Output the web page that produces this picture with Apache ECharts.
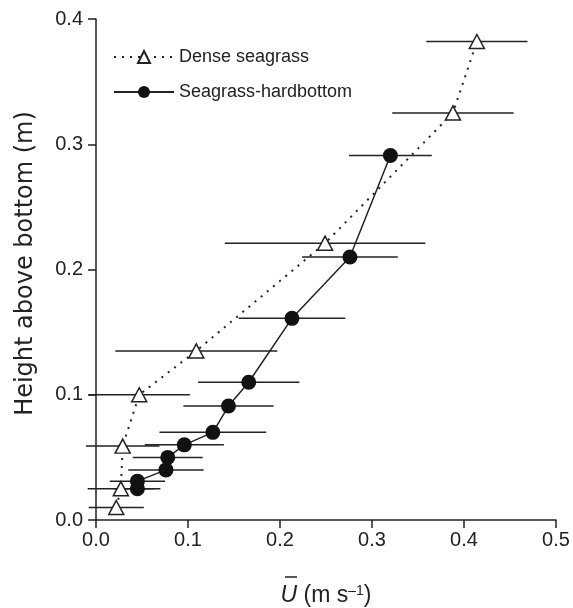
<!DOCTYPE html>
<html>
<head>
<meta charset="utf-8">
<script src="https://cdn.jsdelivr.net/npm/echarts@6/dist/echarts.min.js"></script>
<style>
  html, body { margin: 0; padding: 0; background: #fff; }
  #chart { width: 573px; height: 608px; }
</style>
</head>
<body>
<div id="chart"></div>
<script>
// dense seagrass profile (triangles)
var denseHeight = [0.010, 0.025, 0.059, 0.100, 0.135, 0.221, 0.325, 0.382];
var denseU      = [0.022, 0.027, 0.029, 0.047, 0.109, 0.249, 0.388, 0.414];
var denseErr    = [0.030, 0.036, 0.040, 0.055, 0.088, 0.109, 0.066, 0.055];

// seagrass-hardbottom profile (filled circles)
var hardHeight = [0.025, 0.031, 0.040, 0.050, 0.060, 0.070, 0.091, 0.110, 0.161, 0.210, 0.291];
var hardU      = [0.045, 0.045, 0.076, 0.078, 0.096, 0.127, 0.144, 0.166, 0.213, 0.276, 0.320];
var hardErr    = [0.025, 0.030, 0.041, 0.038, 0.043, 0.058, 0.049, 0.055, 0.058, 0.052, 0.045];

var seriesNames = ['Dense seagrass', 'Seagrass-hardbottom'];

var ink = '#222';
var font = "'Liberation Sans', Arial, sans-serif";

function pairs (xs, ys) {
  return xs.map(function (x, i) { return [x, ys[i]]; });
}
function triples (xs, ys, es) {
  return xs.map(function (x, i) { return [x, ys[i], es[i]]; });
}

// horizontal error bar drawn through the axes
function errBar (params, api) {
  var x = api.value(0), y = api.value(1), e = api.value(2);
  var a = api.coord([x - e, y]);
  var b = api.coord([x + e, y]);
  return {
    type: 'line',
    shape: { x1: a[0], y1: a[1], x2: b[0], y2: b[1] },
    style: { stroke: ink, lineWidth: 1.5 }
  };
}

var dom = echarts.init(document.getElementById('chart'));
dom.setOption({
  animation: false,
  grid: { left: 96, right: 17, top: 19, bottom: 88, outerBoundsMode: 'none' },
  legend: {
    orient: 'vertical',
    left: 113,
    top: 48,
    padding: 0,
    itemWidth: 60,
    itemHeight: 15,
    itemGap: 17,
    data: seriesNames,
    textStyle: { fontFamily: font, fontSize: 18, color: ink }
  },
  xAxis: {
    type: 'value',
    min: 0,
    max: 0.5,
    interval: 0.1,
    splitLine: { show: false },
    axisLine: { lineStyle: { color: ink, width: 1.5 } },
    axisTick: { length: 8, lineStyle: { color: ink, width: 1.5 } },
    axisLabel: {
      margin: 10,
      fontFamily: font, fontSize: 20, color: ink,
      formatter: function (v) { return v.toFixed(1); }
    },
    name: '{u|U} (m s{sup|–1})',
    nameLocation: 'middle',
    nameGap: 64,
    nameTextStyle: {
      fontFamily: font, fontSize: 23, color: ink,
      rich: {
        u: { fontFamily: font, fontSize: 23, fontStyle: 'italic', color: ink },
        sup: { fontFamily: font, fontSize: 14, color: ink, verticalAlign: 'top' }
      }
    }
  },
  yAxis: {
    type: 'value',
    min: 0,
    max: 0.4,
    interval: 0.1,
    splitLine: { show: false },
    axisLine: { show: true, lineStyle: { color: ink, width: 1.5 } },
    axisTick: { show: true, length: 8, lineStyle: { color: ink, width: 1.5 } },
    axisLabel: {
      margin: 13,
      fontFamily: font, fontSize: 20, color: ink,
      formatter: function (v) { return v.toFixed(1); }
    },
    name: 'Height above bottom (m)',
    nameLocation: 'middle',
    nameGap: 58,
    nameTextStyle: {
      fontFamily: "'DejaVu Sans', sans-serif", fontSize: 24, color: ink,
      padding: [0, 0, 0, 12]
    }
  },
  graphic: [
    // overline on U
    { type: 'line', shape: { x1: 285, y1: 577, x2: 297, y2: 577 }, style: { stroke: ink, lineWidth: 1.5 } }
  ],
  series: [
    {
      type: 'custom',
      renderItem: errBar,
      data: triples(denseU, denseHeight, denseErr),
      encode: { x: 0, y: 1 },
      clip: false,
      silent: true,
      z: 1
    },
    {
      type: 'custom',
      renderItem: errBar,
      data: triples(hardU, hardHeight, hardErr),
      encode: { x: 0, y: 1 },
      clip: false,
      silent: true,
      z: 1
    },
    {
      name: seriesNames[0],
      type: 'line',
      data: pairs(denseU, denseHeight),
      symbol: 'triangle',
      symbolSize: [15, 14],
      lineStyle: { color: ink, width: 2, type: [2, 6] },
      itemStyle: { color: '#fff', borderColor: ink, borderWidth: 1.5 },
      z: 3
    },
    {
      name: seriesNames[1],
      type: 'line',
      data: pairs(hardU, hardHeight),
      symbol: 'circle',
      symbolSize: 15,
      lineStyle: { color: ink, width: 1.5 },
      itemStyle: { color: '#111', borderColor: '#111', borderWidth: 0 },
      z: 4
    }
  ]
});
</script>
</body>
</html>
